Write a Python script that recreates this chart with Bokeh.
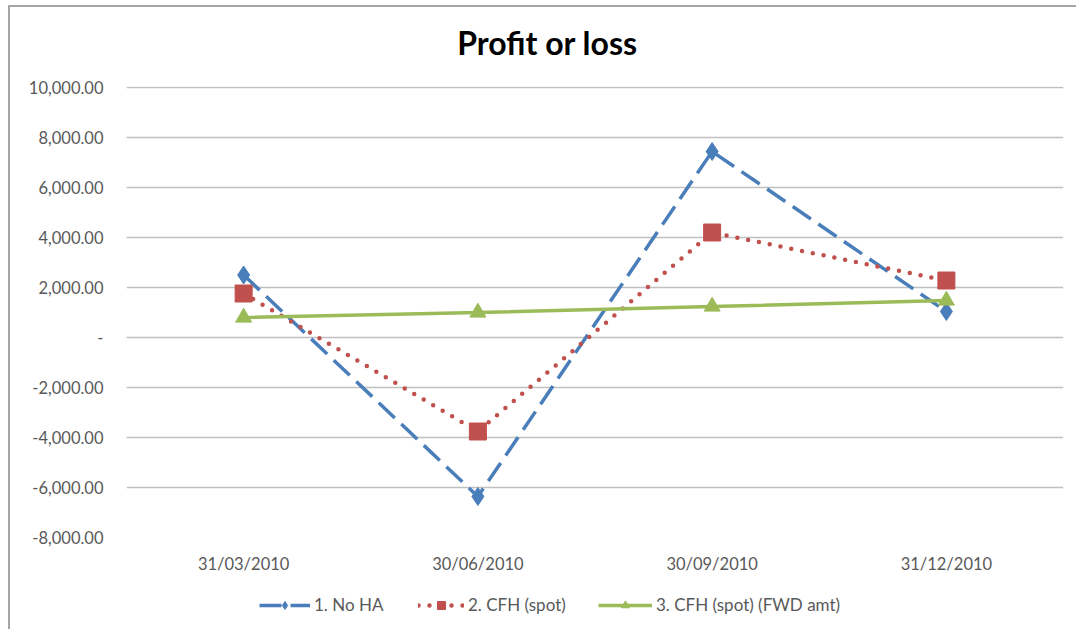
from bokeh.plotting import figure
from bokeh.layouts import column
from bokeh.models import (FactorRange, Range1d, FixedTicker, CustomJSTickFormatter,
                          Legend, LegendItem, Label)
from bokeh.embed import file_html
from bokeh.resources import INLINE

dates = ["31/03/2010", "30/06/2010", "30/09/2010", "31/12/2010"]
no_ha = [2500, -6360, 7440, 1040]
cfh_spot = [1760, -3760, 4200, 2280]
cfh_fwd = [800, 1000, 1240, 1480]
y_ticks = [-8000, -6000, -4000, -2000, 0, 2000, 4000, 6000, 8000, 10000]
series_names = ["1. No HA", "2. CFH (spot)", "3. CFH (spot) (FWD amt)"]
chart_title = "Profit or loss"

FONT = "Lato"
GREY = "#595959"
BLUE, RED, GREEN = "#4a7ebb", "#c0504d", "#9bbb59"
W = 1066
BL, BR = 116, 13


def strip(height):
    f = figure(x_range=Range1d(126, 1063), y_range=Range1d(0, height),
               width=W, height=height, output_backend="svg", toolbar_location=None,
               min_border_left=BL, min_border_right=BR, min_border_top=0, min_border_bottom=0,
               x_axis_location=None, y_axis_location=None)
    f.outline_line_color = None
    f.xgrid.grid_line_color = None
    f.ygrid.grid_line_color = None
    return f


# title strip (page y 7..74)
TS_H = 67
ts = strip(TS_H)
ts.add_layout(Label(x=547, y=TS_H - (42 - 7), text=chart_title, text_align="center",
                    text_baseline="middle", text_font=FONT, text_font_size="32px",
                    text_font_style="bold", text_color="#000000"))

# main chart (page y 74..585, frame 86..537)
p = figure(x_range=FactorRange(*dates), y_range=Range1d(-8000, 10040),
           width=W, height=511, output_backend="svg", toolbar_location=None,
           min_border_left=BL, min_border_right=BR, min_border_top=12, min_border_bottom=48)
p.outline_line_color = None
p.background_fill_color = "white"
p.border_fill_color = "white"

p.xgrid.grid_line_color = None
p.ygrid.grid_line_color = "#c0c0c0"
p.ygrid.grid_line_width = 1.5
p.yaxis.ticker = FixedTicker(ticks=y_ticks)
p.yaxis.formatter = CustomJSTickFormatter(code="""
if (tick == 0) { return '-'; }
return tick.toLocaleString('en-US', {minimumFractionDigits: 2, maximumFractionDigits: 2});
""")
for ax in (p.xaxis, p.yaxis):
    ax.axis_line_color = None
    ax.major_tick_line_color = None
    ax.minor_tick_line_color = None
    ax.major_label_text_font = FONT
    ax.major_label_text_font_size = "16.5px"
    ax.major_label_text_color = GREY
p.yaxis.major_label_standoff = 17
p.xaxis.major_label_standoff = 10


def draw(fig):
    r1l = fig.line(dates, no_ha, line_color=BLUE, line_width=3.5, line_dash="22 9")
    r1m = fig.scatter(dates, no_ha, marker="diamond", size=18, fill_color=BLUE, line_color=BLUE)
    r2l = fig.line(dates, cfh_spot, line_color=RED, line_width=4.5, line_dash="0 11", line_cap="round")
    r2m = fig.scatter(dates, cfh_spot, marker="square", size=17, fill_color=RED, line_color=RED)
    r3l = fig.line(dates, cfh_fwd, line_color=GREEN, line_width=3.5)
    r3m = fig.scatter(dates, cfh_fwd, marker="triangle", size=16, fill_color=GREEN, line_color=GREEN)
    return [(r1l, r1m), (r2l, r2m), (r3l, r3m)]


draw(p)

# legend strip below the chart (series drawn off-range; only the legends show)
lg = figure(x_range=FactorRange(*dates), y_range=Range1d(1e6, 1e6 + 1),
            width=W, height=44, output_backend="svg", toolbar_location=None,
            min_border_left=BL, min_border_right=BR, min_border_top=0, min_border_bottom=0,
            x_axis_location=None, y_axis_location=None)
lg.outline_line_color = None
lg.xgrid.grid_line_color = None
lg.ygrid.grid_line_color = None
pairs = draw(lg)

for name, rs, xoff, gw in zip(series_names, pairs, [133, 292, 472], [51, 46, 54]):
    leg = Legend(items=[LegendItem(label=name, renderers=list(rs))],
                 orientation="horizontal", location=(xoff, 14))
    leg.label_text_font = FONT
    leg.label_text_font_size = "17px"
    leg.label_text_color = GREY
    leg.glyph_width = gw
    leg.glyph_height = 20
    leg.label_standoff = 4
    leg.padding = 0
    leg.margin = 0
    leg.border_line_color = None
    leg.background_fill_alpha = 0
    lg.add_layout(leg)

layout = column(ts, p, lg, spacing=0)
layout.styles = {"margin-left": "8px", "margin-top": "5px",
                 "border-left": "2px solid #a6a6a6", "border-top": "2px solid #a6a6a6"}
open("out.html", "w").write(file_html(layout, INLINE))
